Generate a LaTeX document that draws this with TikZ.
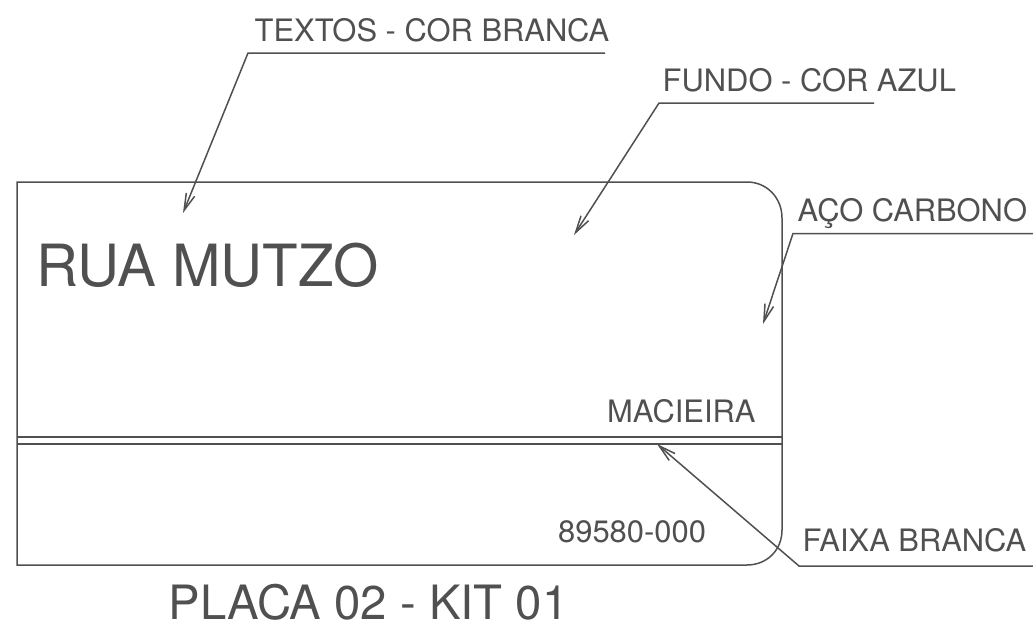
\documentclass[tikz,border=0pt]{standalone}
\usepackage{fontspec}
\setmainfont{TeX Gyre Heros}
\usetikzlibrary{arrows.meta}
\definecolor{ink}{RGB}{80,80,80}
\tikzset{
  lbl/.style={inner sep=0pt,anchor=base west,text=ink},
  ln/.style={draw=ink,line width=1.5pt},
  lead/.style={draw=ink,line width=1.5pt,-{Straight Barb[length=17pt,width=9pt]}}
}
\begin{document}
\begin{tikzpicture}[x=1pt,y=-1pt,font=\fontsize{30.9}{30.9}\selectfont]
\useasboundingbox (0,0) rectangle (1033,624);
\path[ln] (17,182) -- (747,182) .. controls (767,182) and (782,198) .. (782,218) -- (782,530) .. controls (782,550) and (767,565) .. (747,565) -- (17,565) -- cycle;
\coordinate (dl1) at (17,437); \coordinate (dr1) at (782,437);
\coordinate (dl2) at (17,444); \coordinate (dr2) at (782,444);
\path[ln] (dl1) -- (dr1); \path[ln] (dl2) -- (dr2);
\node[lbl] (t1) at (254.5,41) {TEXTOS - COR BRANCA};
\node[lbl] (t2) at (662.5,91) {FUNDO - COR AZUL};
\node[lbl] (t3) at (797.5,221) {AÇO CARBONO};
\node[lbl] (t4) at (802.5,551) {FAIXA BRANCA};
\node[lbl,font=\fontsize{58.2}{58.2}\selectfont] (rua) at (36,286) {RUA MUTZO};
\node[lbl] (mac) at (607,422) {MACIEIRA};
\node[lbl] (num) at (558,542) {89580-000};
\node[lbl,font=\fontsize{47.3}{47.3}\selectfont] (pl) at (168.5,619) {PLACA 02 - KIT 01};
\coordinate (e1) at (605,53); \coordinate (k1) at (248,53); \coordinate (a1) at (183,213);
\coordinate (e2) at (874,103); \coordinate (k2) at (659,103); \coordinate (a2) at (574,235);
\coordinate (e3) at (1033,233.5); \coordinate (k3) at (793,233.5); \coordinate (a3) at (763,324);
\coordinate (e4) at (1033,566); \coordinate (k4) at (799,566); \coordinate (a4) at (657,444);
\path[lead] (e1) -- (k1) -- (a1);
\path[lead] (e2) -- (k2) -- (a2);
\path[lead] (e3) -- (k3) -- (a3);
\path[lead] (e4) -- (k4) -- (a4);
\end{tikzpicture}
\end{document}
